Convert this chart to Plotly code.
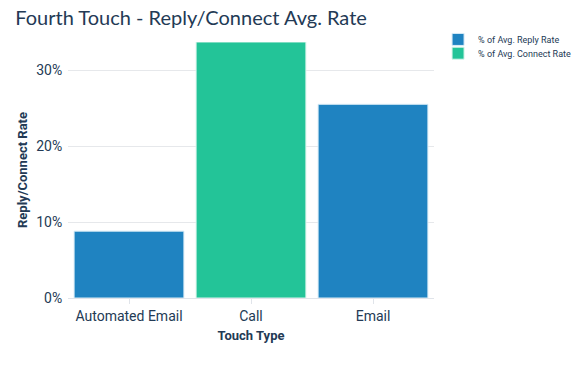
import plotly.graph_objects as go

categories = ["Automated Email", "Call", "Email"]
reply_rate = [8.8, None, 25.5]
connect_rate = [None, 33.7, None]
tick_vals = [0, 10, 20, 30]
tick_text = ["0%", "10%", "20%", "30%"]

txt = "#233a55"
fig = go.Figure()
fig.add_trace(go.Bar(x=categories, y=reply_rate, name="% of Avg. Reply Rate", legend="legend",
                     marker=dict(color="#1f83c1", line=dict(color="#d9ecf7", width=1))))
fig.add_trace(go.Bar(x=categories, y=connect_rate, name="% of Avg. Connect Rate", legend="legend2",
                     marker=dict(color="#23c498", line=dict(color="#d9f5ec", width=1))))
leg_common = dict(xref="container", yref="container", xanchor="left", yanchor="middle",
                  font=dict(size=9, color=txt), itemwidth=30, bgcolor="rgba(0,0,0,0)")
fig.update_layout(
    width=588, height=372, barmode="overlay", bargap=0.1, showlegend=True,
    paper_bgcolor="white", plot_bgcolor="white",
    margin=dict(l=68, r=154, t=42, b=74, autoexpand=False),
    title=dict(text="Fourth Touch - Reply/Connect Avg. Rate", x=0.026, xanchor="left", y=0.952, yanchor="middle",
               font=dict(family="Liberation Sans Narrow, Lato", size=20, color=txt)),
    font=dict(family="Roboto", color=txt),
    legend=dict(x=0.745, y=0.894, **leg_common),
    legend2=dict(x=0.745, y=0.857, **leg_common),
    xaxis=dict(title=dict(text="<b>Touch Type</b>", font=dict(size=13, color=txt), standoff=8),
               tickfont=dict(size=14, color=txt), showline=True, linecolor="#e0e4ea",
               ticks="outside", tickcolor="#e0e4ea", ticklen=5),
    yaxis=dict(title=dict(text="<b>Reply/Connect Rate</b>", font=dict(size=13, color=txt), standoff=5),
               range=[0, 33.7], tickvals=tick_vals, ticktext=tick_text,
               tickfont=dict(size=14, color=txt), showgrid=True, gridcolor="#e6e8eb",
               zeroline=False, ticks="outside", tickcolor="rgba(0,0,0,0)", ticklen=2),
)
fig.write_html("out.html", config={"displayModeBar": False})
with open("out.html", encoding="utf-8") as f:
    html = f.read()
html = html.replace("<head>", "<head><style>html,body{margin:0;padding:0;}</style>", 1)
with open("out.html", "w", encoding="utf-8") as f:
    f.write(html)
